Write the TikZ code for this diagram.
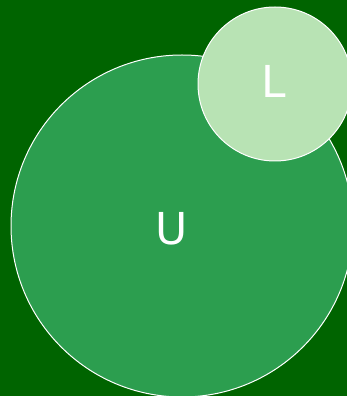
\documentclass[tikz,border=0pt]{standalone}
\usepackage{fontspec}
\setmainfont{DejaVu Sans}
\definecolor{bg}{RGB}{0,100,0}
\definecolor{ucol}{RGB}{44,158,79}
\definecolor{lcol}{RGB}{184,227,180}
\begin{document}
\begin{tikzpicture}[x=1pt,y=1pt,
  setcircle/.style={circle,draw=white,line width=1pt,inner sep=0pt},
  lab/.style={text=white,font=\fontsize{44}{44}\selectfont,inner sep=0pt}]
\fill[bg] (0,0) rectangle (347,396);
\useasboundingbox (0,0) rectangle (347,396);
\begin{scope}
\clip (0,0) rectangle (347,396);
\node[setcircle,fill=ucol,minimum size=342pt] (U) at (182,170) {};
\node[setcircle,fill=lcol,minimum size=154pt] (L) at (275,312) {};
\end{scope}
\node[lab] (Ulab) at (172,167) {U};
\node[lab] (Llab) at (274,315) {L};
\end{tikzpicture}
\end{document}
